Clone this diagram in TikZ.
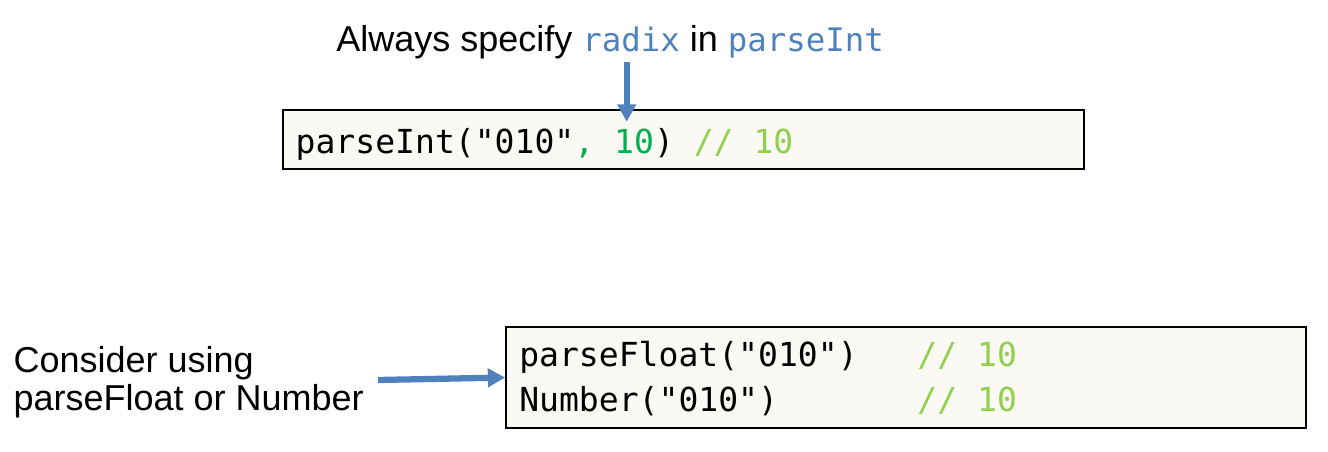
\documentclass[tikz,border=0pt]{standalone}
\usepackage{fontspec}
\setmainfont{Liberation Sans}
\setmonofont{DejaVu Sans Mono}
\usetikzlibrary{arrows.meta}
\definecolor{hblue}{HTML}{4F81BD}
\definecolor{cgreen}{HTML}{00B050}
\definecolor{lgreen}{HTML}{92D050}
\definecolor{boxfill}{HTML}{FAF9F4}
\newcommand\hcode[1]{{\ttfamily\fontsize{24.3}{29}\selectfont\color{hblue}#1}}
\begin{document}
\begin{tikzpicture}[x=0.75pt,y=-0.75pt,
  sans/.style={font=\fontsize{27}{32}\selectfont, inner sep=0pt, anchor=base west},
  code/.style={font=\ttfamily\fontsize{24.8}{29}\selectfont, inner sep=0pt, anchor=base west},
  codebox/.style={draw=black, line width=1.2pt, fill=boxfill, inner sep=0pt},
  bluearrow/.style={draw=hblue, line width=4.7pt, -{Triangle[length=13pt,width=13.5pt]}}]
\useasboundingbox (0,0) rectangle (1328,451);
% boxes
\node[codebox, minimum width=600.75pt, minimum height=44.25pt] (box1) at (683.5,139.5) {};
\node[codebox, minimum width=600pt, minimum height=75.75pt] (box2) at (906,377.5) {};
% header
\node[sans] (head) at (336,51.7) {Always specify \hcode{radix} in \hcode{parseInt}};
% code
\node[code] (c1) at (295.4,153) {parseInt("010"{\color{cgreen}, 10}) {\color{lgreen}// 10}};
\node[code] (c2) at (519,366) {parseFloat("010")\hphantom{000}{\color{lgreen}// 10}};
\node[code] (c3) at (519,411) {Number("010")\hphantom{0000000}{\color{lgreen}// 10}};
% lower text
\node[sans] (t1) at (13.3,372) {Consider using};
\node[sans] (t2) at (13.3,410.5) {parseFloat or Number};
% arrows
\coordinate (a1s) at (626.7,61.7);
\coordinate (a1e) at (626.7,121.7);
\coordinate (a2s) at (378,380);
\draw[bluearrow] (a1s) -- (a1e);
\draw[bluearrow] (a2s) -- (box2.west);
\end{tikzpicture}
\end{document}
